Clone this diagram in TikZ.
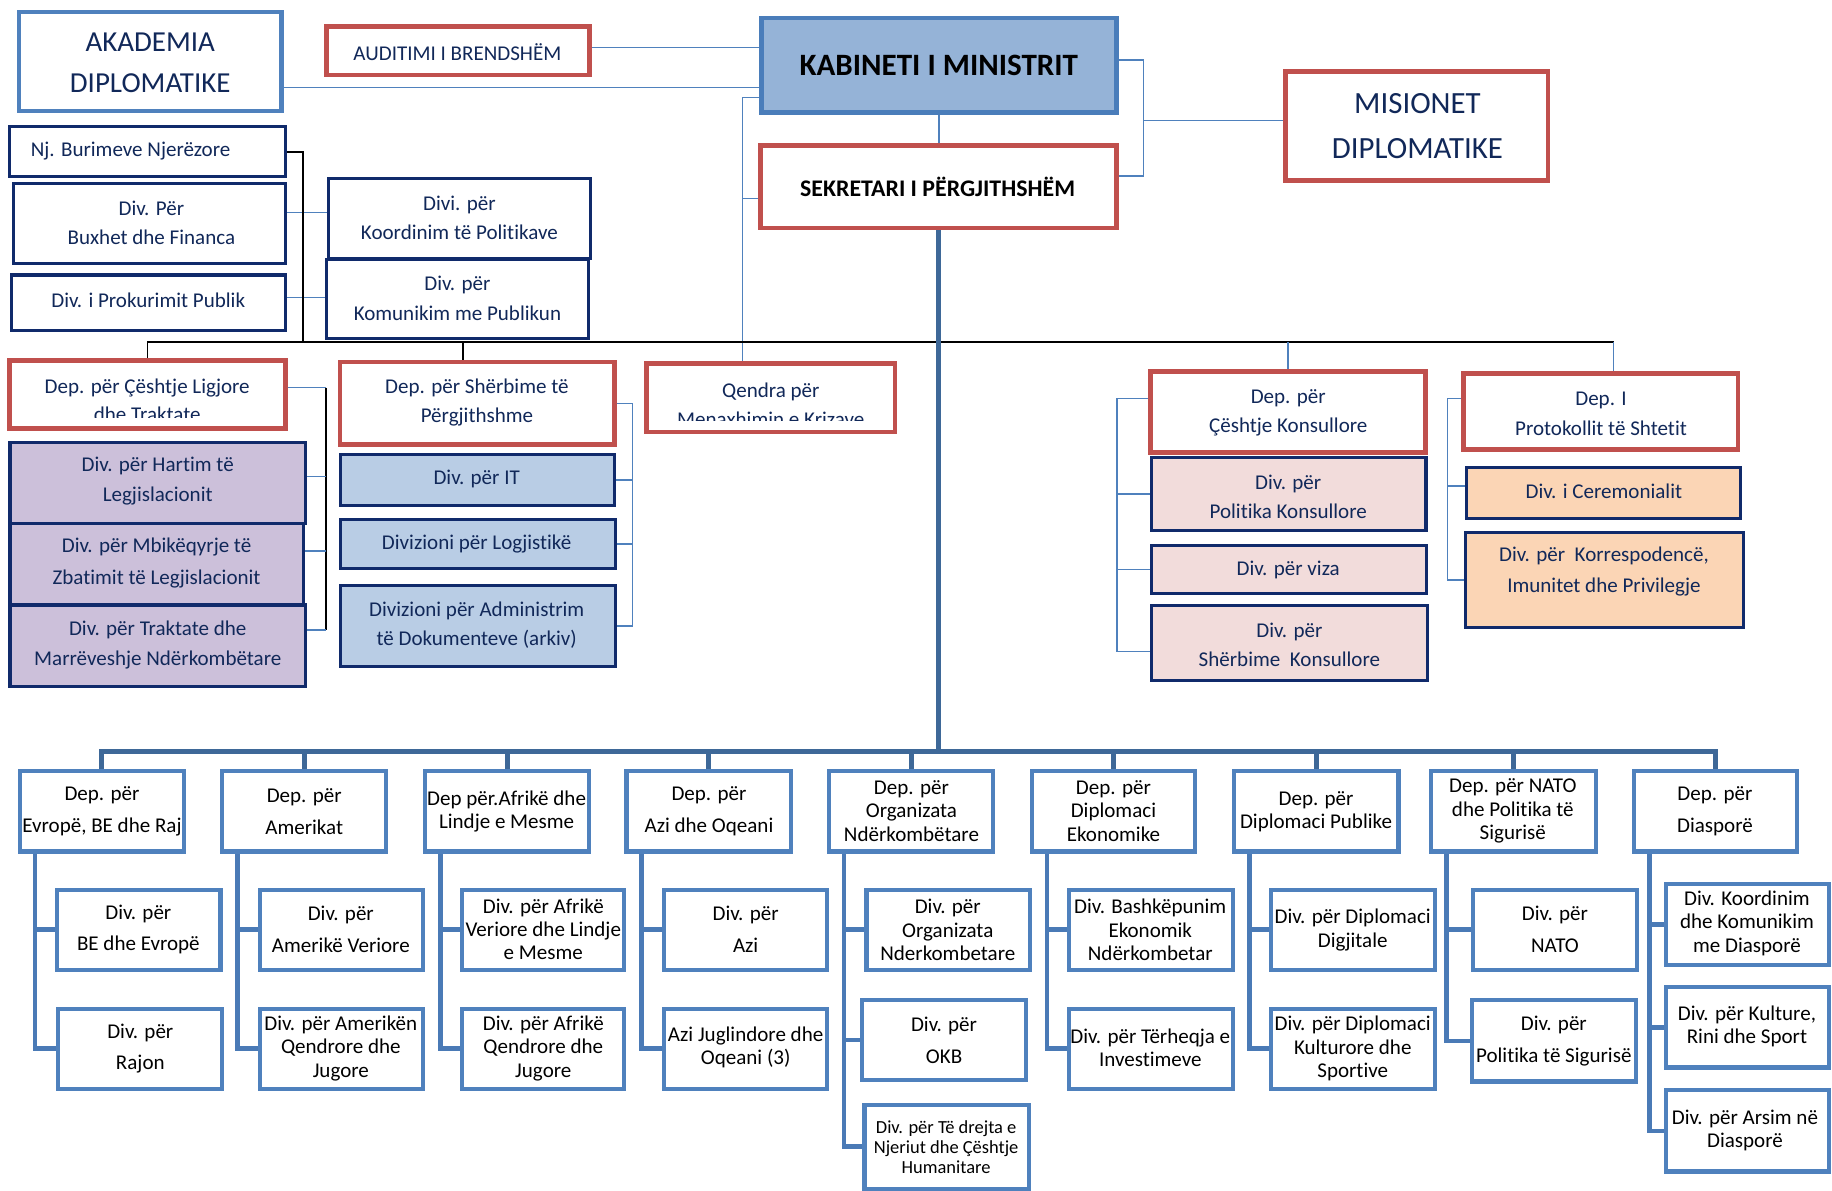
\documentclass[tikz,border=0pt]{standalone}
\usepackage{fontspec}
\setmainfont{Carlito}[Ligatures={NoCommon}]
\usetikzlibrary{calc}
\pgfdeclarelayer{bg}
\pgfsetlayers{bg,main}
\definecolor{redc}{HTML}{C0504D}
\definecolor{akc}{HTML}{4F81BD}
\definecolor{kabb}{HTML}{4A7DBA}
\definecolor{kabf}{HTML}{95B3D7}
\definecolor{navy}{HTML}{102A6B}
\definecolor{navytxt}{HTML}{112859}
\definecolor{purf}{HTML}{CCC0DA}
\definecolor{lbf}{HTML}{B9CDE5}
\definecolor{pkf}{HTML}{F2DCDB}
\definecolor{pcf}{HTML}{FBD5B5}
\definecolor{botc}{HTML}{4F81BD}
\definecolor{busc}{HTML}{3E6898}
\definecolor{spc}{HTML}{4A7AB6}
\definecolor{thinc}{HTML}{4F81BD}
\newcommand\Bx[6]{\node[#1, minimum width={(#5-#3)*0.5pt}, minimum height={(#6-#4)*0.5pt}] (#2) at ({(#3+#5)/2},{(#4+#6)/2}) {};}
\begin{document}
\begin{tikzpicture}[x=0.5pt,y=-0.5pt,
  box/.style={rectangle, inner sep=0pt, outer sep=0pt, line join=miter},
  redbox/.style={box, draw=redc, line width=2pt, fill=white},
  akbox/.style={box, draw=akc, line width=1.8pt, fill=white},
  kabbox/.style={box, draw=kabb, line width=2pt, fill=kabf},
  navybox/.style={box, draw=navy, line width=1.35pt, fill=white},
  purbox/.style={navybox, fill=purf},
  lbbox/.style={navybox, fill=lbf},
  pkbox/.style={navybox, fill=pkf},
  pcbox/.style={navybox, fill=pcf},
  botbox/.style={box, draw=botc, line width=1.8pt, fill=white},
  tx/.style={inner sep=0pt, outer sep=0pt, align=center, text=navytxt, font=\fontsize{9}{12.5}\selectfont},
  tb/.style={tx, text=black, font=\fontsize{9}{13.8}\selectfont},
  tb3/.style={tx, text=black, font=\fontsize{9}{10}\selectfont},
  thinblue/.style={draw=thinc, line width=0.65pt},
  blk/.style={draw=black, line width=0.75pt},
  trunk/.style={draw=busc, line width=2.4pt},
  busline/.style={draw=busc, line width=2.1pt},
  spine/.style={draw=spc, line width=2pt, line join=miter}
]
\useasboundingbox (0,0) rectangle (1568,1019);

% ---------- top ----------
\Bx{akbox}{akad}{16}{10}{241}{95}
\node[tx, font=\fontsize{12.4}{17.25}\selectfont] (akad-t) at (128.6,53.7) {AKADEMIA\\DIPLOMATIKE};
\Bx{redbox}{aud}{279.5}{22.5}{504.5}{64.2}
\node[tx] (aud-t) at (391.5,44.2) {AUDITIMI I BRENDSHËM};
\Bx{kabbox}{kab}{652}{15.5}{955.5}{96}
\node[tx, text=black, font=\bfseries\fontsize{13.3}{16}\selectfont] (kab-t) at (803.5,55.6) {KABINETI I MINISTRIT};
\Bx{redbox}{sek}{651}{124.5}{955.5}{195}
\node[tx, text=black, font=\bfseries\fontsize{10.2}{12}\selectfont] (sek-t) at (802.5,159.8) {SEKRETARI I PËRGJITHSHËM};
\Bx{redbox}{mis}{1100.5}{61.3}{1325}{154.3}
\node[tx, font=\fontsize{13.2}{19.25}\selectfont] (mis-t) at (1213.2,108.2) {MISIONET\\DIPLOMATIKE};

% ---------- upper left ----------
\Bx{navybox}{nj}{8}{108.5}{244}{151.3}
\node[tx, anchor=west] (nj-t) at (26.4,129) {Nj. Burimeve Njerëzore};
\Bx{navybox}{bux}{11.5}{156.8}{244}{225.5}
\node[tx] (bux-t) at (129.6,190.8) {Div. Për\\Buxhet dhe Financa};
\Bx{navybox}{prok}{10}{235.3}{244}{282.6}
\node[tx] (prok-t) at (126.9,256.8) {Div. i Prokurimit Publik};
\Bx{navybox}{koord}{281.2}{153}{505.6}{221.5}
\node[tx] (koord-t) at (393.2,186.3) {Divi. për\\Koordinim të Politikave};
\Bx{navybox}{kom}{279.8}{222}{504}{290}
\node[tx] (kom-t) at (391.5,255.4) {Div. për\\Komunikim me Publikun};

% ---------- middle red ----------
\Bx{redbox}{lig}{8}{308.4}{244.4}{366.9}
\begin{scope}
\clip (0,300) rectangle (260,357.2);
\node[tx, font=\fontsize{9}{12}\selectfont] (lig-t) at (126,342.4) {Dep. për Çështje Ligjore\\dhe Traktate};
\end{scope}
\Bx{redbox}{sherb}{291}{309.8}{526.1}{380.6}
\node[tx] (sherb-t) at (408.2,344.8) {Dep. për Shërbime të\\Përgjithshme};
\Bx{redbox}{qen}{553.4}{311.3}{765.9}{369.8}
\begin{scope}
\clip (550,300) rectangle (770,359.5);
\node[tx, font=\fontsize{9}{12.6}\selectfont] (qen-t) at (659.7,346.4) {Qendra për\\Menaxhimin e Krizave};
\end{scope}
\Bx{redbox}{kons}{984.6}{317.8}{1220.1}{387.2}
\node[tx] (kons-t) at (1102.6,353.5) {Dep. për\\Çështje Konsullore};
\Bx{redbox}{prot}{1252.3}{319.8}{1487.5}{384.9}
\node[tx] (prot-t) at (1370.3,354.2) {Dep. I\\Protokollit të Shtetit};

% purple
\Bx{purbox}{hart}{8.5}{378.5}{261.7}{447.9}
\node[tx] (hart-t) at (135,411.7) {Div. për Hartim të\\Legjislacionit};
\Bx{purbox}{mbik}{8.5}{447.9}{259.9}{517.8}
\node[tx, font=\fontsize{9}{13.4}\selectfont] (mbik-t) at (134,481.9) {Div. për Mbikëqyrje të\\Zbatimit të Legjislacionit};
\Bx{purbox}{trak}{8.5}{517.8}{261.7}{587.3}
\node[tx] (trak-t) at (135,552) {Div. për Traktate dhe\\Marrëveshje Ndërkombëtare};

% light blue
\Bx{lbbox}{it}{291.7}{389.3}{525.8}{432.4}
\node[tx] (it-t) at (408,410.3) {Div. për IT};
\Bx{lbbox}{log}{291.7}{444.9}{526.9}{486.6}
\node[tx] (log-t) at (408,465.6) {Divizioni për Logjistikë};
\Bx{lbbox}{adm}{291.7}{501.1}{526.9}{570.2}
\node[tx] (adm-t) at (408,534.8) {Divizioni për Administrim\\të Dokumenteve (arkiv)};

% pink
\Bx{pkbox}{pol}{985.3}{391.6}{1220.5}{453.7}
\node[tx] (pol-t) at (1102.6,425.5) {Div. për\\Politika Konsullore};
\Bx{pkbox}{viza}{985.3}{466.9}{1221.2}{508}
\node[tx] (viza-t) at (1102.6,487.9) {Div. për viza};
\Bx{pkbox}{shk}{985.3}{518.5}{1222}{582.1}
\node[tx] (shk-t) at (1103.6,552.2) {Div. për\\Shërbime\ \ Konsullore};

% peach
\Bx{pcbox}{cer}{1255.5}{400.1}{1489.7}{443.7}
\node[tx] (cer-t) at (1372.8,420.8) {Div. i Ceremonialit};
\Bx{pcbox}{kor}{1254.5}{455.5}{1492.2}{537.3}
\node[tx, font=\fontsize{9}{13.1}\selectfont] (kor-t) at (1372.8,489) {Div. për\ \ Korrespodencë,\\Imunitet dhe Privilegje};

% ---------- bottom departments ----------
\Bx{botbox}{d1}{16.9}{660.2}{157.3}{728.7}
\node[tb] (d1-t) at (87.3,694.4) {Dep. për\\Evropë, BE dhe Raj};
\Bx{botbox}{d2}{190.2}{660.2}{330.6}{728.7}
\node[tb] (d2-t) at (260.4,694.4) {Dep. për\\Amerikat};
\Bx{botbox}{d3}{363.8}{660.2}{504.2}{728.7}
\node[tb3, font=\fontsize{9}{9.7}\selectfont] (d3-t) at (433.6,694.5) {Dep për.Afrikë dhe\\Lindje e Mesme};
\Bx{botbox}{d4}{536.2}{660.2}{676.7}{728.7}
\node[tb] (d4-t) at (606.8,694.4) {Dep. për\\Azi dhe Oqeani};
\Bx{botbox}{d5}{709.8}{660.2}{850}{728.7}
\node[tb3] (d5-t) at (780.1,694.2) {Dep. për\\Organizata\\Ndërkombëtare};
\Bx{botbox}{d6}{883.1}{660.2}{1023}{728.7}
\node[tb3] (d6-t) at (953,694.2) {Dep. për\\Diplomaci\\Ekonomike};
\Bx{botbox}{d7}{1055.9}{660.2}{1196.9}{728.7}
\node[tb3, font=\fontsize{9}{9.7}\selectfont] (d7-t) at (1126.4,694.5) {Dep. për\\Diplomaci Publike};
\Bx{botbox}{d8}{1224.7}{660.2}{1365.9}{728.7}
\node[tb3] (d8-t) at (1294.8,694.2) {Dep. për NATO\\dhe Politika të\\Sigurisë};
\Bx{botbox}{d9}{1398.4}{660.2}{1538}{728.7}
\node[tb] (d9-t) at (1467.8,694.4) {Dep. për\\Diasporë};

% ---------- bottom divisions ----------
\Bx{botbox}{e1}{49.1}{761.5}{188.8}{830}
\node[tb, font=\fontsize{9}{13.5}\selectfont] (e1-t) at (118.4,795.4) {Div. për\\BE dhe Evropë};
\Bx{botbox}{e2}{49.7}{863.3}{189.8}{931.8}
\node[tb, font=\fontsize{9}{13.4}\selectfont] (e2-t) at (120.1,897.3) {Div. për\\Rajon};
\Bx{botbox}{a1}{222.3}{761.5}{362.1}{830}
\node[tb, font=\fontsize{9}{13.5}\selectfont] (a1-t) at (291.7,795.4) {Div. për\\Amerikë Veriore};
\Bx{botbox}{a2}{222.3}{863.3}{362.1}{931.8}
\node[tb3] (a2-t) at (291.7,897.3) {Div. për Amerikën\\Qendrore dhe\\Jugore};
\Bx{botbox}{f1}{395.3}{761.5}{534.3}{830}
\node[tb3] (f1-t) at (465,795.4) {Div. për Afrikë\\Veriore dhe Lindje\\e Mesme};
\Bx{botbox}{f2}{395.3}{863.3}{534.3}{931.8}
\node[tb3] (f2-t) at (465,897.3) {Div. për Afrikë\\Qendrore dhe\\Jugore};
\Bx{botbox}{z1}{568.3}{761.5}{707.5}{830}
\node[tb, font=\fontsize{9}{13.5}\selectfont] (z1-t) at (638.2,795.4) {Div. për\\Azi};
\Bx{botbox}{z2}{568.3}{863.3}{707.5}{931.8}
\node[tb3] (z2-t) at (638.2,896.7) {Azi Juglindore dhe\\Oqeani (3)};
\Bx{botbox}{o1}{741.6}{761.5}{881.5}{830}
\node[tb3] (o1-t) at (811.2,796) {Div. për\\Organizata\\Nderkombetare};
\Bx{botbox}{o2}{738.1}{856.2}{878}{924.1}
\node[tb, font=\fontsize{9}{13.7}\selectfont] (o2-t) at (808,890.2) {Div. për\\OKB};
\Bx{botbox}{o3}{739.9}{945.5}{880.4}{1017.5}
\node[tb3, font=\fontsize{7.9}{8.7}\selectfont] (o3-t) at (809.8,981.9) {Div. për Të drejta e\\Njeriut dhe Çështje\\Humanitare};
\Bx{botbox}{k1}{914.6}{761.5}{1055.1}{830}
\node[tb3] (k1-t) at (984.5,796) {Div. Bashkëpunim\\Ekonomik\\Ndërkombetar};
\Bx{botbox}{k2}{914.6}{863.3}{1055.1}{931.8}
\node[tb3] (k2-t) at (984.5,896.7) {Div. për Tërheqja e\\Investimeve};
\Bx{botbox}{p1}{1087.7}{761.5}{1227.9}{830}
\node[tb3, font=\fontsize{9}{10.25}\selectfont] (p1-t) at (1157.8,795.8) {Div. për Diplomaci\\Digjitale};
\Bx{botbox}{p2}{1087.7}{863.3}{1227.9}{931.8}
\node[tb3] (p2-t) at (1157.8,897.3) {Div. për Diplomaci\\Kulturore dhe\\Sportive};
\Bx{botbox}{n1}{1260.4}{761.5}{1401}{830}
\node[tb, font=\fontsize{9}{13.5}\selectfont] (n1-t) at (1330.9,795.4) {Div. për\\NATO};
\Bx{botbox}{n2}{1259.7}{856.2}{1400}{925.6}
\node[tb, font=\fontsize{9}{13.55}\selectfont] (n2-t) at (1329.9,890.8) {Div. për\\Politika të Sigurisë};
\Bx{botbox}{s1}{1425.7}{756.4}{1565.3}{825.7}
\node[tb3] (s1-t) at (1495.2,790) {Div. Koordinim\\dhe Komunikim\\me Diasporë};
\Bx{botbox}{s2}{1425.7}{844.8}{1565.3}{913.6}
\node[tb3, font=\fontsize{9}{9.7}\selectfont] (s2-t) at (1495.2,878.5) {Div. për Kulture,\\Rini dhe Sport};
\Bx{botbox}{s3}{1425.7}{933.2}{1565.3}{1002.6}
\node[tb3, font=\fontsize{9}{9.7}\selectfont] (s3-t) at (1493.5,967.5) {Div. për Arsim në\\Diasporë};

% ---------- connectors ----------
\begin{pgfonlayer}{bg}
% top
\draw[thinblue] (aud.east |- 0,40.5) -- (kab.west |- 0,40.5);
\draw[thinblue] (akad.east |- 0,75) -- (kab.west |- 0,75);
\coordinate (qx) at (635.3,83.3);
\draw[thinblue] (kab.west |- qx) -- (qx) -- (qx |- qen.north);
\draw[thinblue] (sek.west |- 0,169.8) -- (qx |- 0,169.8);
\draw[thinblue] (kab.south) -- (kab.south |- sek.north);
\coordinate (rbx) at (978.8,51.4);
\draw[thinblue] (kab.east |- rbx) -- (rbx) -- (rbx |- 0,150.6) -- (sek.east |- 0,150.6);
\draw[thinblue] (rbx |- 0,103.3) -- (mis.west |- 0,103.3);
\draw[thinblue] (bux.east |- 0,182) -- (koord.west |- 0,182);
\draw[thinblue] (prok.east |- 0,254.8) -- (kom.west |- 0,254.8);
% black distribution line
\coordinate (bk) at (1381,292.4);
\draw[blk] (lig.north) -- (lig.north |- bk) -- (bk);
\draw[blk] ($(sherb.north)+(-12.3,0)$) -- ($(sherb.north |- bk)+(-12.3,0)$);
\draw[blk] (nj.east) -| ($(nj.east |- bk)+(15.6,0)$);
\draw[thinblue] (bk) -- (bk |- prot.north);
\draw[thinblue] (kons.north) -- (kons.north |- bk);
% legal bracket
\coordinate (lgx) at (279.2,331.8);
\draw[thinblue] (lig.east |- lgx) -- (lgx);
\draw[blk] (lgx) -- (lgx |- 0,539.2);
\draw[thinblue] (hart.east |- 0,408) -- (lgx |- 0,408);
\draw[thinblue] (mbik.east |- 0,471.6) -- (lgx |- 0,471.6);
\draw[thinblue] (trak.east |- 0,539.2) -- (lgx |- 0,539.2);
% services bracket
\coordinate (sbx) at (541.5,0);
\draw[thinblue] (sherb.east) -- (sherb.east -| sbx) -- (sbx |- adm.east) -- (adm.east);
\draw[thinblue] (it.east) -- (it.east -| sbx);
\draw[thinblue] (log.east) -- (log.east -| sbx);
% consular bracket
\coordinate (kbx) at (955.9,341);
\draw[thinblue] (kons.west |- kbx) -- (kbx) -- (kbx |- 0,557.8) -- (shk.west |- 0,557.8);
\draw[thinblue] (pol.west) -- (pol.west -| kbx);
\draw[thinblue] (viza.west) -- (viza.west -| kbx);
% protocol bracket
\coordinate (pbx) at (1238.7,341);
\draw[thinblue] (prot.west |- pbx) -- (pbx) -- (pbx |- kor.west) -- (kor.west);
\draw[thinblue] (cer.west |- 0,416) -- (pbx |- 0,416);
% trunk and bus
\coordinate (bus) at (0,643.4);
\draw[trunk] (sek.south) -- (sek.south |- bus);
\draw[busline] (d1.north) -- (d1.north |- bus) -- (d9.north |- bus) -- (d9.north);
\foreach \n in {d2,d3,d4,d5,d6,d7,d8} {\draw[busline] (\n.north) -- (\n.north |- bus);}
% spines
\draw[spine] ($(d1.south west)+(13,0)$) coordinate (sp1) |- (e2.west);
\draw[spine] (sp1 |- e1.west) -- (e1.west);
\draw[spine] ($(d2.south west)+(13,0)$) coordinate (sp2) |- (a2.west);
\draw[spine] (sp2 |- a1.west) -- (a1.west);
\draw[spine] ($(d3.south west)+(13,0)$) coordinate (sp3) |- (f2.west);
\draw[spine] (sp3 |- f1.west) -- (f1.west);
\draw[spine] ($(d4.south west)+(13,0)$) coordinate (sp4) |- (z2.west);
\draw[spine] (sp4 |- z1.west) -- (z1.west);
\draw[spine] ($(d5.south west)+(12.6,0)$) coordinate (sp5) |- (o3.west);
\draw[spine] (sp5 |- o1.west) -- (o1.west);
\draw[spine] (sp5 |- o2.west) -- (o2.west);
\draw[spine] ($(d6.south west)+(13,0)$) coordinate (sp6) |- (k2.west);
\draw[spine] (sp6 |- k1.west) -- (k1.west);
\draw[spine] ($(d7.south west)+(13.4,0)$) coordinate (sp7) |- (p2.west);
\draw[spine] (sp7 |- p1.west) -- (p1.west);
\draw[spine] ($(d8.south west)+(13.3,0)$) coordinate (sp8) |- (n2.west);
\draw[spine] (sp8 |- n1.west) -- (n1.west);
\draw[spine] ($(d9.south west)+(13.3,0)$) coordinate (sp9) |- (s3.west);
\draw[spine] (sp9 |- s1.west) -- (s1.west);
\draw[spine] (sp9 |- s2.west) -- (s2.west);
\end{pgfonlayer}
\end{tikzpicture}
\end{document}
